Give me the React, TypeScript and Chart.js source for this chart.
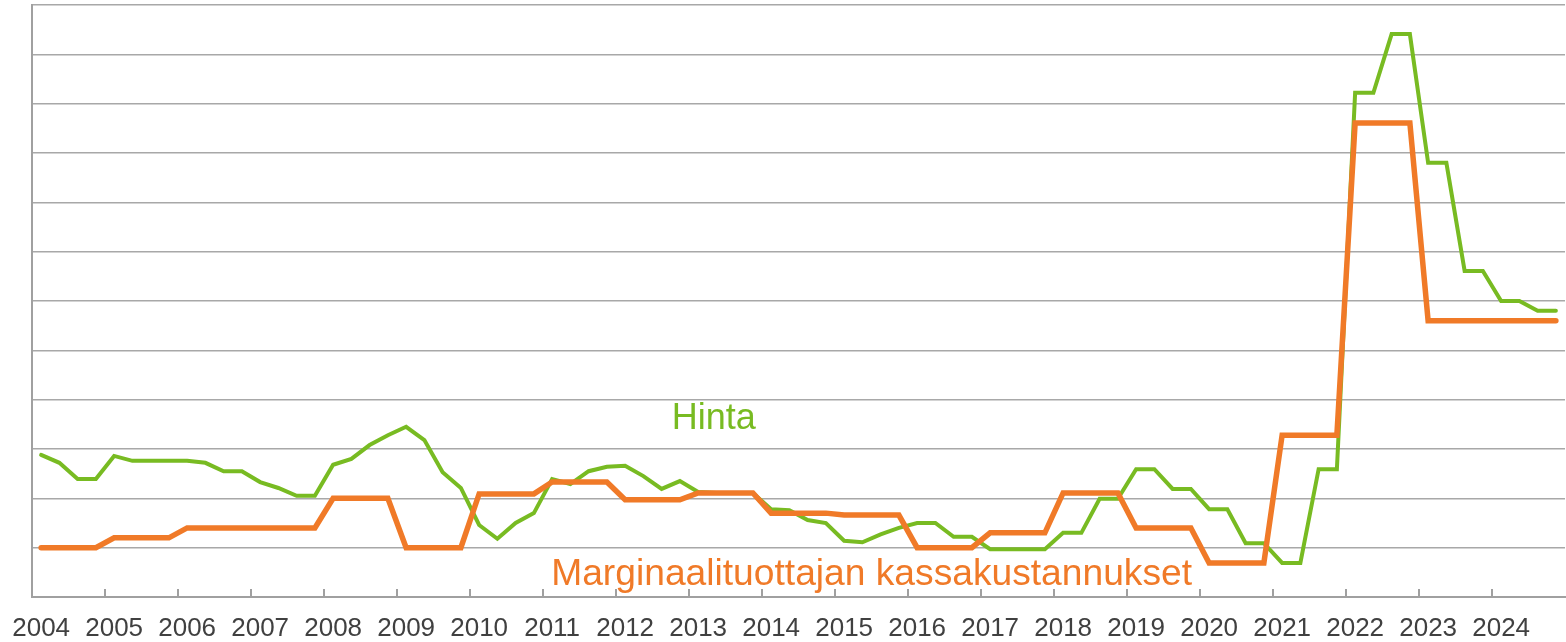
import React, { useEffect, useRef } from 'react';
import { Chart, registerables } from 'chart.js';

Chart.register(...registerables);

// Year tick labels (each year has four quarterly points)
const years = [
  '2004', '2005', '2006', '2007', '2008', '2009', '2010', '2011', '2012', '2013',
  '2014', '2015', '2016', '2017', '2018', '2019', '2020', '2021', '2022', '2023', '2024',
];

// Hinta (price), quarterly 2004 Q1 – 2024 Q4
const hinta = [
  2.88, 2.72, 2.39, 2.39,
  2.86, 2.76, 2.76, 2.76,
  2.76, 2.72, 2.55, 2.55,
  2.33, 2.21, 2.05, 2.05,
  2.68, 2.80, 3.08, 3.28,
  3.45, 3.18, 2.53, 2.21,
  1.46, 1.18, 1.50, 1.70,
  2.39, 2.29, 2.55, 2.64,
  2.66, 2.45, 2.19, 2.35,
  2.13, 2.11, 2.11, 2.11,
  1.78, 1.76, 1.56, 1.50,
  1.14, 1.11, 1.27, 1.40,
  1.50, 1.50, 1.22, 1.22,
  0.97, 0.97, 0.97, 0.97,
  1.30, 1.30, 1.99, 1.99,
  2.59, 2.59, 2.19, 2.19,
  1.78, 1.78, 1.09, 1.09,
  0.69, 0.69, 2.59, 2.59,
  10.22, 10.22, 11.41, 11.41,
  8.80, 8.80, 6.61, 6.61,
  6.00, 6.00, 5.80, 5.80,
];

// Marginaalituottajan kassakustannukset, quarterly 2004 Q1 – 2024 Q4
const kustannukset = [
  1.00, 1.00, 1.00, 1.00,
  1.20, 1.20, 1.20, 1.20,
  1.40, 1.40, 1.40, 1.40,
  1.40, 1.40, 1.40, 1.40,
  2.00, 2.00, 2.00, 2.00,
  1.00, 1.00, 1.00, 1.00,
  2.09, 2.09, 2.09, 2.09,
  2.33, 2.33, 2.33, 2.33,
  1.97, 1.97, 1.97, 1.97,
  2.11, 2.11, 2.11, 2.11,
  1.70, 1.70, 1.70, 1.70,
  1.66, 1.66, 1.66, 1.66,
  1.00, 1.00, 1.00, 1.00,
  1.30, 1.30, 1.30, 1.30,
  2.11, 2.11, 2.11, 2.11,
  1.40, 1.40, 1.40, 1.40,
  0.69, 0.69, 0.69, 0.69,
  3.28, 3.28, 3.28, 3.28,
  9.61, 9.61, 9.61, 9.61,
  5.60, 5.60, 5.60, 5.60,
  5.60, 5.60, 5.60, 5.60,
];

const GREEN = '#78BB22';
const ORANGE = '#F07A28';
const GRID = '#A8A8A8';
const AXIS = '#A0A0A0';
const FONT = '"Liberation Sans", Arial, sans-serif';

export default function App() {
  const ref = useRef<HTMLCanvasElement>(null);

  useEffect(() => {
    document.body.style.margin = '0';
    const canvas = ref.current;
    if (!canvas) return;

    Chart.defaults.font.family = FONT;

    const tickMarks = {
      id: 'tickMarks',
      afterDraw(chart: any) {
        const { ctx, chartArea } = chart;
        const xs = chart.scales.x;
        ctx.save();
        ctx.strokeStyle = AXIS;
        ctx.lineWidth = 2;
        ctx.beginPath();
        for (let k = 1; k < years.length; k++) {
          const px = Math.round(xs.getPixelForValue(k * 4));
          ctx.moveTo(px, chartArea.bottom - 8);
          ctx.lineTo(px, chartArea.bottom);
        }
        ctx.stroke();
        ctx.restore();
      },
    };

    const annotations = {
      id: 'annotations',
      afterDatasetsDraw(chart: any) {
        const { ctx } = chart;
        const xs = chart.scales.x;
        const ys = chart.scales.y;
        ctx.save();
        ctx.textAlign = 'left';
        ctx.textBaseline = 'alphabetic';
        ctx.font = `36px ${FONT}`;
        ctx.fillStyle = GREEN;
        ctx.fillText('Hinta', xs.getPixelForValue(35.05), ys.getPixelForValue(3.41));
        ctx.font = `37.2px ${FONT}`;
        ctx.fillStyle = ORANGE;
        ctx.fillText(
          'Marginaalituottajan kassakustannukset',
          xs.getPixelForValue(28.45),
          ys.getPixelForValue(0.243)
        );
        ctx.restore();
      },
    };

    const chart = new Chart(canvas, {
      type: 'line',
      data: {
        datasets: [
          {
            label: 'Marginaalituottajan kassakustannukset',
            data: kustannukset.map((v, i) => ({ x: i + 0.5, y: v })),
            borderColor: ORANGE,
            backgroundColor: ORANGE,
            borderWidth: 5.5,
            borderCapStyle: 'round',
            pointRadius: 0,
            tension: 0,
            order: 0,
          },
          {
            label: 'Hinta',
            data: hinta.map((v, i) => ({ x: i + 0.5, y: v })),
            borderColor: GREEN,
            backgroundColor: GREEN,
            borderWidth: 4,
            borderCapStyle: 'round',
            pointRadius: 0,
            tension: 0,
            order: 1,
          },
        ],
      },
      options: {
        animation: false,
        responsive: false,
        maintainAspectRatio: false,
        layout: { padding: { left: 32, top: 5, right: 1, bottom: 0 } },
        plugins: {
          legend: { display: false },
          tooltip: { enabled: false },
        },
        scales: {
          x: {
            type: 'linear',
            min: 0,
            max: years.length * 4,
            afterBuildTicks: (scale: any) => {
              scale.ticks = years.map((_, i) => ({ value: i * 4 + 0.5 }));
            },
            ticks: {
              callback: (_v: any, i: number) => years[i],
              color: '#404040',
              font: { size: 26, lineHeight: 1.0, family: FONT },
              padding: 0,
              maxRotation: 0,
              autoSkip: false,
            },
            grid: {
              display: true,
              drawOnChartArea: false,
              drawTicks: true,
              tickLength: 19,
              color: 'rgba(0,0,0,0)',
            },
            border: { display: true, color: AXIS, width: 2 },
          },
          y: {
            min: 0,
            max: 12,
            ticks: { display: false, stepSize: 1 },
            grid: { color: GRID, lineWidth: 1.5, drawTicks: false },
            border: { display: true, color: AXIS, width: 2 },
          },
        },
      },
      plugins: [tickMarks, annotations],
    } as any);

    return () => chart.destroy();
  }, []);

  return (
    <div style={{ width: 1566, height: 642 }}>
      <canvas ref={ref} width={1566} height={642} />
    </div>
  );
}
